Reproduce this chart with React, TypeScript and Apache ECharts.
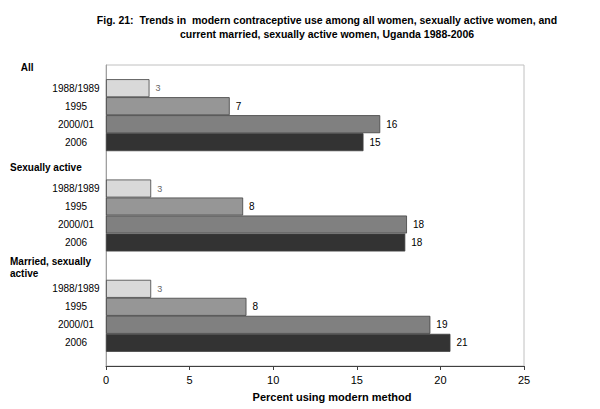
import React, { useEffect, useRef } from "react";
import * as echarts from "echarts";

const groups = ["All", "Sexually active", "Married, sexually\nactive"];
const years = ["1988/1989", "1995", "2000/01", "2006"];
const v1988 = [2.6, 2.7, 2.7];
const v1995 = [7.4, 8.2, 8.4];
const v2000 = [16.4, 18.0, 19.4];
const v2006 = [15.4, 17.9, 20.6];
const xTicks = [0, 5, 10, 15, 20, 25];

const seriesData = [v1988, v1995, v2000, v2006];
const colors = ["#d9d9d9", "#969696", "#808080", "#333333"];
const FONT = "'Liberation Sans', Arial, sans-serif";

export default function App() {
  const ref = useRef<HTMLDivElement>(null);
  useEffect(() => {
    if (!ref.current) return;
    document.body.style.margin = "0";
    const chart = echarts.init(ref.current, undefined, { renderer: "svg" });
    const barSeries: any[] = seriesData.map((d, i) => ({
      type: "bar",
      name: years[i],
      data: d,
      yAxisIndex: 0,
      barWidth: 18,
      barGap: "0%",
      itemStyle: { color: colors[i], borderColor: "#404040", borderWidth: 0.8 },
      label: {
        show: true,
        position: "right",
        distance: 6,
        formatter: (p: any) => String(Math.round(p.value)),
        color: i === 0 ? "#666666" : "#000000",
        fontSize: i === 0 ? 9 : 10,
        fontFamily: FONT,
      },
    }));
    const labelSeries: any[] = seriesData.map((d, i) => ({
      type: "bar",
      name: years[i] + " label",
      data: d,
      yAxisIndex: 1,
      barWidth: 18,
      barGap: "0%",
      silent: true,
      itemStyle: { color: "rgba(0,0,0,0)" },
      label: {
        show: true,
        position: "left",
        distance: 30,
        align: "center",
        formatter: () => years[i],
        color: "#000000",
        fontSize: 10,
        fontFamily: FONT,
      },
      z: 1,
    }));
    chart.setOption({
      animation: false,
      backgroundColor: "#ffffff",
      title: {
        text: "Fig. 21:  Trends in  modern contraceptive use among all women, sexually active women, and\ncurrent married, sexually active women, Uganda 1988-2006",
        left: 322,
        top: 8,
        textAlign: "center",
        textStyle: {
          fontFamily: FONT,
          fontSize: 10.5,
          fontWeight: "bold",
          color: "#000000",
          lineHeight: 14,
          align: "center",
        },
      },
      grid: {
        left: 106,
        right: 76,
        top: 65,
        bottom: 43,
        show: true,
        borderColor: "#c0c0c0",
        borderWidth: 1,
        backgroundColor: "#ffffff",
      },
      xAxis: {
        type: "value",
        min: 0,
        max: 25,
        interval: 5,
        name: "Percent using modern method",
        nameLocation: "middle",
        nameGap: 25,
        nameTextStyle: {
          fontFamily: FONT,
          fontSize: 11,
          fontWeight: "bold",
          color: "#000000",
          padding: [0, 0, 0, 34],
        },
        axisLine: { show: true, lineStyle: { color: "#404040", width: 1 } },
        axisTick: { show: true, length: 4, lineStyle: { color: "#404040" } },
        axisLabel: {
          margin: 8,
          fontFamily: FONT,
          fontSize: 11,
          color: "#000000",
          formatter: (v: number) => (xTicks.includes(v) ? String(v) : ""),
        },
        splitLine: { show: false },
      },
      yAxis: [
        {
          type: "category",
          data: groups,
          inverse: true,
          axisLine: { show: true, lineStyle: { color: "#a0a0a0" } },
          axisTick: { show: false },
          axisLabel: {
            interval: 0,
            align: "left",
            margin: 96,
            fontFamily: FONT,
            fontSize: 10,
            fontWeight: "bold",
            color: "#000000",
            lineHeight: 12,
            verticalAlign: "middle",
            formatter: (v: string) =>
              (v === "All" ? "    " : "") + v + "\n \n \n \n \n \n \n \n ",
          },
        },
        {
          type: "category",
          data: groups,
          inverse: true,
          show: false,
        },
      ],
      series: [...barSeries, ...labelSeries],
    });
    return () => chart.dispose();
  }, []);
  return <div ref={ref} style={{ width: 600, height: 409 }} />;
}
